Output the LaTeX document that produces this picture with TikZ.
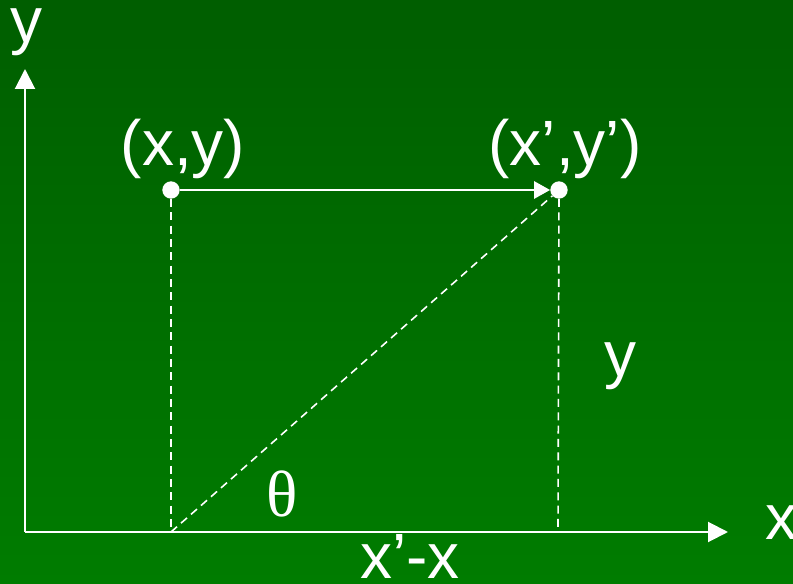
\documentclass[tikz,border=0pt]{standalone}
\usepackage{fontspec}
\setmainfont{Liberation Sans}
\newfontfamily\timesfont{Liberation Serif}
\usetikzlibrary{arrows.meta}
\definecolor{bgtop}{HTML}{005E00}
\definecolor{bgbot}{HTML}{007C00}
\begin{document}
\begin{tikzpicture}[x=0.75pt,y=-0.75pt,
  axis/.style={white,line width=1.5pt,-{Triangle[length=15pt,width=15pt]}},
  guide/.style={white,line width=1.2pt,dash pattern=on 6pt off 4pt},
  dot/.style={circle,fill=white,inner sep=0pt,minimum size=13pt},
  lbl/.style={text=white,anchor=base,inner sep=0pt,font=\fontsize{48}{56}\selectfont}]
\useasboundingbox (0,0) rectangle (793,584);
\clip (0,0) rectangle (793,584);
\shade[top color=bgtop,bottom color=bgbot] (0,0) rectangle (793,584);
\coordinate (O) at (25,532);
\coordinate (Ytip) at (25,69);
\coordinate (Xtip) at (728,532);
\coordinate (Pb) at (171,532);
\coordinate (Qb) at (558,532);
\node[dot] (P) at (171,190) {};
\node[dot] (Q) at (559,190) {};
\draw[axis] (O) -- (Ytip);
\draw[axis] (O) -- (Xtip);
\draw[guide] (P) -- (Pb);
\draw[guide] (Q) -- (Qb);
\draw[guide] (Pb) -- (Q);
\draw[white,line width=1.5pt,-{Triangle[length=12pt,width=13pt]}] (P) -- (Q);
\node[lbl] (ly) at (27,43) {y};
\node[lbl] (lx) at (781,540) {x};
\node[lbl] (lp) at (183,166) {(x,y)};
\node[lbl] (lq) at (565,166) {(x’,y’)};
\node[lbl] (lyr) at (620,377) {y};
\node[lbl,font=\timesfont\fontsize{49}{56}\selectfont] (lt) at (282,517) {θ};
\node[lbl] (ld) at (410,579) {x’-x};
\end{tikzpicture}
\end{document}
